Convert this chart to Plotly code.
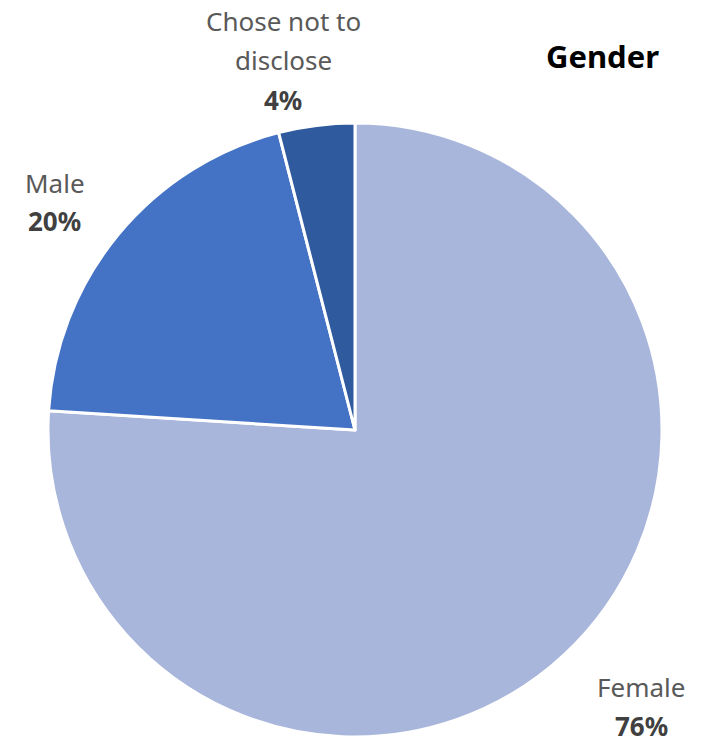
import plotly.graph_objects as go

categories = ["Female", "Male", "Chose not to disclose"]
shares = [76, 20, 4]
label_lines = [["Female"], ["Male"], ["Chose not to", "disclose"]]
colors = ["#A9B6DB", "#4472C4", "#305A9E"]

W, H = 722, 743

fig = go.Figure()
fig.add_trace(go.Pie(
    labels=categories,
    values=shares,
    sort=False,
    direction="clockwise",
    rotation=0,
    marker=dict(colors=colors, line=dict(color="white", width=3)),
    textinfo="none",
    hoverinfo="label+percent",
    showlegend=False,
    domain=dict(x=[48 / W, 662 / W], y=[1 - 737 / H, 1 - 123 / H]),
))

FONT = "Noto Sans, Open Sans, sans-serif"
label_font = dict(family=FONT, size=26, color="#595959")
pct_font = dict(family=FONT, size=26, color="#404040")

# label anchor positions (pixels): centre x, y of each name line, y of value line
positions = {
    "Female": (641, [687], 726),
    "Male": (55, [183], 221),
    "Chose not to disclose": (283, [21, 60], 100),
}
for cat, lines, val in zip(categories, label_lines, shares):
    cx, ys, py = positions[cat]
    for line, ly in zip(lines, ys):
        fig.add_annotation(x=cx / W, y=1 - ly / H, xref="paper", yref="paper",
                           text=line, showarrow=False, font=label_font,
                           xanchor="center", yanchor="middle", borderpad=0)
    fig.add_annotation(x=cx / W, y=1 - py / H, xref="paper", yref="paper",
                       text=f"<b>{val}%</b>", showarrow=False, font=pct_font,
                       xanchor="center", yanchor="middle", borderpad=0)

fig.add_annotation(x=602 / W, y=1 - 56 / H, xref="paper", yref="paper",
                   text="<b>Gender</b>", showarrow=False,
                   font=dict(family=FONT, size=31, color="#000000"),
                   xanchor="center", yanchor="middle")

fig.update_layout(width=W, height=H, margin=dict(l=0, r=0, t=0, b=0),
                  paper_bgcolor="white", plot_bgcolor="white")
fig.write_html("out.html")
